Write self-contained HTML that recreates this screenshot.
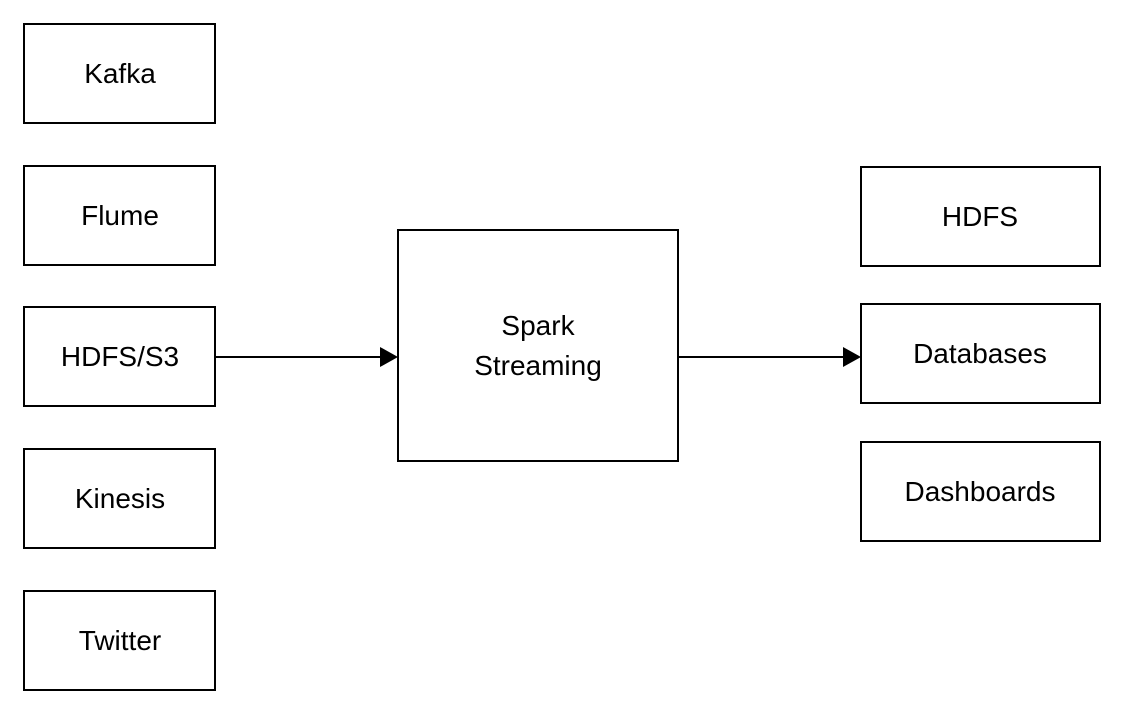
<!DOCTYPE html>
<html><head><style>body{margin:0;background:#fff}</style></head><body>
<svg width="1125" height="715" xmlns="http://www.w3.org/2000/svg" font-family="Liberation Sans, sans-serif" font-size="28" text-anchor="middle">
<g fill="none" stroke="#000" stroke-width="2">
<rect x="24" y="24" width="191" height="99"/>
<rect x="24" y="166" width="191" height="99"/>
<rect x="24" y="307" width="191" height="99"/>
<rect x="24" y="449" width="191" height="99"/>
<rect x="24" y="591" width="191" height="99"/>
<rect x="398" y="230" width="280" height="231"/>
<rect x="861" y="167" width="239" height="99"/>
<rect x="861" y="304" width="239" height="99"/>
<rect x="861" y="442" width="239" height="99"/>
<line x1="215" y1="357" x2="382" y2="357"/>
<line x1="678" y1="357" x2="845" y2="357"/>
</g>
<polygon points="380,347 398,357 380,367" fill="#000"/>
<polygon points="843,347 861,357 843,367" fill="#000"/>
<g fill="#000">
<text x="120" y="83">Kafka</text>
<text x="120" y="225">Flume</text>
<text x="120" y="366">HDFS/S3</text>
<text x="120" y="508">Kinesis</text>
<text x="120" y="650">Twitter</text>
<text x="538" y="335">Spark</text>
<text x="538" y="375">Streaming</text>
<text x="980" y="226">HDFS</text>
<text x="980" y="363">Databases</text>
<text x="980" y="501">Dashboards</text>
</g>
</svg>
</body></html>
